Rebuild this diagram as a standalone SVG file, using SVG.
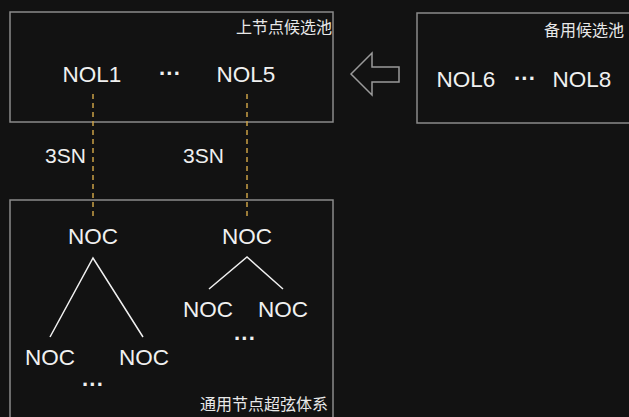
<svg xmlns="http://www.w3.org/2000/svg" width="629" height="417" viewBox="0 0 629 417">
<style>
.box{fill:none;stroke:#8a8a8a;stroke-width:1.5}
.t{fill:#f0f0f0;font-family:"Liberation Sans","Noto Sans CJK SC",sans-serif}
.n{font-size:22.5px;text-anchor:middle}
.s{font-size:21px}
.cap{font-size:16px;text-anchor:end;fill:#e8e8e8;font-family:"Noto Sans CJK SC",sans-serif}
.dots{font-size:22px;text-anchor:middle;font-weight:bold}
.dash{stroke:#c9a045;stroke-width:1.5;stroke-dasharray:5,4;fill:none}
.edge{stroke:#f0f0f0;stroke-width:1.5;fill:none}
</style>
<rect width="629" height="417" fill="#121212"/>
<g id="pool-upper">
<rect class="box" x="10" y="12" width="323" height="110"/>
<text class="cap" x="332" y="33">上节点候选池</text>
<text class="t n" x="92" y="82">NOL1</text>
<text class="t dots" x="170" y="81">···</text>
<text class="t n" x="246" y="82">NOL5</text>
</g>
<g id="pool-backup">
<rect class="box" x="417" y="13" width="220" height="110"/>
<text class="cap" x="624" y="36">备用候选池</text>
<text class="t n" x="466" y="87">NOL6</text>
<text class="t dots" x="525" y="86">···</text>
<text class="t n" x="582" y="87">NOL8</text>
</g>
<g id="system">
<rect class="box" x="10" y="200" width="323" height="230"/>
<text class="cap" x="328" y="410">通用节点超弦体系</text>
</g>
<g id="noc-a"><text class="t n" x="93" y="244">NOC</text></g>
<g id="noc-a1"><text class="t n" x="50" y="365">NOC</text></g>
<g id="noc-a2"><text class="t n" x="144" y="365">NOC</text></g>
<text class="t dots" x="93" y="392">···</text>
<g id="noc-b"><text class="t n" x="247" y="244">NOC</text></g>
<g id="noc-b1"><text class="t n" x="208" y="317">NOC</text></g>
<g id="noc-b2"><text class="t n" x="283" y="317">NOC</text></g>
<text class="t dots" x="245" y="346">···</text>
<g id="connectors">
<line class="dash" x1="93" y1="94" x2="93" y2="216"/>
<line class="dash" x1="247" y1="94" x2="247" y2="216"/>
<text class="t s" x="45" y="163">3SN</text>
<text class="t s" x="183" y="163">3SN</text>
<polyline class="edge" points="50,337 93,258 143,337"/>
<polyline class="edge" points="209,289 247,257 283,289"/>
<polygon points="351,74 372,53 372,67 399,67 399,82 372,82 372,95" fill="none" stroke="#9a9a9a" stroke-width="1.5"/>
</g>
</svg>
